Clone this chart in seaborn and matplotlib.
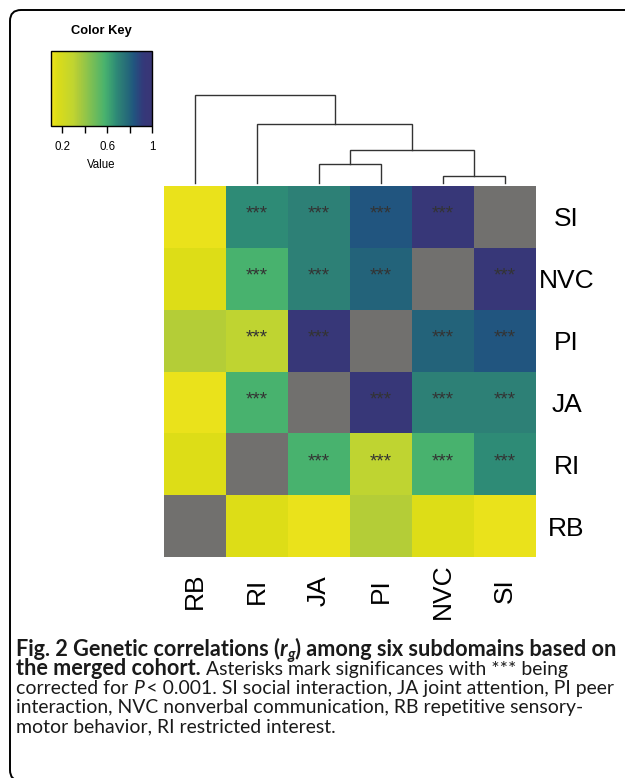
import numpy as np
import pandas as pd
import matplotlib
matplotlib.use("Agg")
import matplotlib.pyplot as plt
import seaborn as sns
from matplotlib.colors import LinearSegmentedColormap
from matplotlib.transforms import IdentityTransform
from matplotlib.patches import FancyBboxPatch

plt.rcParams['font.family'] = ['Liberation Sans', 'DejaVu Sans']

# ---------------- data ----------------
rows = ["SI", "NVC", "PI", "JA", "RI", "RB"]
cols = ["RB", "RI", "JA", "PI", "NVC", "SI"]
nan = np.nan
rg_SI  = [0.12, 0.68, 0.71, 0.84, 0.95, nan]
rg_NVC = [0.15, 0.58, 0.71, 0.80, nan, 0.95]
rg_PI  = [0.33, 0.30, 0.95, nan, 0.80, 0.84]
rg_JA  = [0.12, 0.58, nan, 0.95, 0.71, 0.71]
rg_RI  = [0.15, nan, 0.58, 0.30, 0.58, 0.68]
rg_RB  = [nan, 0.15, 0.12, 0.33, 0.15, 0.12]

sig_SI  = [0, 1, 1, 1, 1, 0]
sig_NVC = [0, 1, 1, 1, 0, 1]
sig_PI  = [0, 1, 1, 0, 1, 1]
sig_JA  = [0, 1, 0, 1, 1, 1]
sig_RI  = [0, 0, 1, 1, 1, 1]
sig_RB  = [0, 0, 0, 0, 0, 0]

# dendrogram (leaf ids follow column order; new nodes numbered 6,7,...)
link_left = [4, 2, 7, 1, 0]
link_right = [5, 3, 6, 8, 9]
link_height = [0.73, 1.9, 3.3, 5.93, 8.8]

key_ticks = [0.2, 0.4, 0.6, 0.8, 1.0]
key_ticklabels = ["0.2", "", "0.6", "", "1"]

caption_lines = [
    [("Fig. 2 Genetic correlations (", "b"), ("r", "bi"), ("g", "bisub"),
     (") among six subdomains based on", "b")],
    [("the merged cohort.", "b"), (" Asterisks mark significances with *** being", "r")],
    [("corrected for ", "r"), ("P", "i"),
     ("\u2009< 0.001. SI social interaction, JA joint attention, PI peer", "r")],
    [("interaction, NVC nonverbal communication, RB repetitive sensory-", "r")],
    [("motor behavior, RI restricted interest.", "r")],
]

# ---------------- figure ----------------
W, H = 625, 778
fig = plt.figure(figsize=(W / 100, H / 100), dpi=100)

def fa(x0, y0, x1, y1):
    return [x0 / W, 1 - y1 / H, (x1 - x0) / W, (y1 - y0) / H]

df = pd.DataFrame([rg_SI, rg_NVC, rg_PI, rg_JA, rg_RI, rg_RB], index=rows, columns=cols)
sig = np.array([sig_SI, sig_NVC, sig_PI, sig_JA, sig_RI, sig_RB])
annot = np.where(sig == 1, "***", "")

vmin, vmax = 0.1, 1.0
key_stops = [(0.10, "#f1e51d"), (0.15, "#dddd17"), (0.30, "#bfd431"), (0.33, "#b4cd37"),
             (0.58, "#48b26e"), (0.68, "#2e8b76"), (0.71, "#2d8076"), (0.80, "#23647a"),
             (0.84, "#21557f"), (0.92, "#33397a"), (0.95, "#373778"), (1.00, "#383676")]
cmap = LinearSegmentedColormap.from_list(
    "key", [((v - vmin) / (vmax - vmin), c) for v, c in key_stops])

ax = fig.add_axes(fa(164, 186, 536, 557))
cax = fig.add_axes(fa(51, 51, 152, 126))
ax.set_facecolor("#71706e")
sns.heatmap(df, ax=ax, cmap=cmap, vmin=vmin, vmax=vmax, mask=df.isna(),
            annot=annot, fmt="", annot_kws={"color": "#333333", "fontsize": 13.5},
            cbar_ax=cax, cbar_kws={"orientation": "horizontal", "ticks": key_ticks},
            xticklabels=cols, yticklabels=rows)
for t in ax.texts:
    x, y = t.get_position()
    t.set_position((x, y - 0.04))

ax.yaxis.tick_right()
ax.tick_params(axis="y", length=0, pad=22, labelsize=19, labelrotation=0)
ax.tick_params(axis="x", length=0, pad=24.5, labelsize=19, labelrotation=90)
for t in ax.get_yticklabels():
    t.set_ha("center")
for t in ax.get_xticklabels():
    t.set_va("center")
    t.set_ha("center")

cbar = ax.collections[0].colorbar
cbar.outline.set_edgecolor("black")
cbar.outline.set_linewidth(1.0)
cax.set_xticklabels(key_ticklabels)
cax.tick_params(axis="x", bottom=True, length=5, width=1, direction="out", labelsize=8.3, pad=6)
cax.set_xlabel("Value", fontsize=8.3, labelpad=4)
fig.text(101 / W, 1 - 31 / H, "Color Key", fontsize=9.3, fontweight="bold", ha="center", va="center")

# dendrogram
dax = fig.add_axes(fa(164, 95, 536, 183))
dax.set_xlim(0, len(cols))
dax.set_ylim(0, max(link_height))
dax.axis("off")
pos = {i: (i + 0.5, 0.0) for i in range(len(cols))}
for k, (l, r, h) in enumerate(zip(link_left, link_right, link_height)):
    xl, hl = pos[l]
    xr, hr = pos[r]
    dax.plot([xl, xl, xr, xr], [hl, h, h, hr], color="#333333", lw=1.0, clip_on=False,
             solid_joinstyle="miter")
    pos[len(cols) + k] = ((xl + xr) / 2, h)

# border
box = FancyBboxPatch((10, -3), 700, H - 10 + 3, boxstyle="round,pad=0,rounding_size=11",
                     transform=IdentityTransform(), fill=False, edgecolor="black", lw=1.4)
fig.add_artist(box)

# caption
renderer = fig.canvas.get_renderer()
cap_font = "Lato"
styles = {
    "b": dict(fontweight="bold"),
    "bi": dict(fontweight="bold", fontstyle="italic"),
    "bisub": dict(fontweight="bold", fontstyle="italic"),
    "i": dict(fontstyle="italic"),
    "r": dict(),
}

def width_of(s, size, st):
    t = fig.text(0, 0, "|" + s + "|", fontsize=size, family=cap_font, **styles[st])
    t2 = fig.text(0, 0, "||", fontsize=size, family=cap_font, **styles[st])
    w = t.get_window_extent(renderer).width - t2.get_window_extent(renderer).width
    t.remove(); t2.remove()
    return w

def line_width(runs, bsize, rsize):
    tot = 0
    for s, st in runs:
        fs = bsize if st.startswith("b") else rsize
        if st == "bisub":
            fs *= 0.7
        tot += width_of(s, fs, st)
    return tot

bsize = 10.0
bsize *= (615 - 16) / line_width(caption_lines[0], bsize, bsize)
rsize = 10.0
rsize *= (613 - 16) / line_width(caption_lines[2], rsize, rsize)
baselines = [656, 675, 694, 713, 732]
for runs, yb in zip(caption_lines, baselines):
    x = 16
    for s, st in runs:
        fs = bsize if st.startswith("b") else rsize
        dy = 0
        if st == "bisub":
            fs *= 0.7
            dy = -3
        fig.text(x, H - yb + dy, s, transform=IdentityTransform(), fontsize=fs,
                 family=cap_font, va="baseline", ha="left", color="#1a1a1a", **styles[st])
        x += width_of(s, fs, st)

fig.savefig("out.png", dpi=100)
